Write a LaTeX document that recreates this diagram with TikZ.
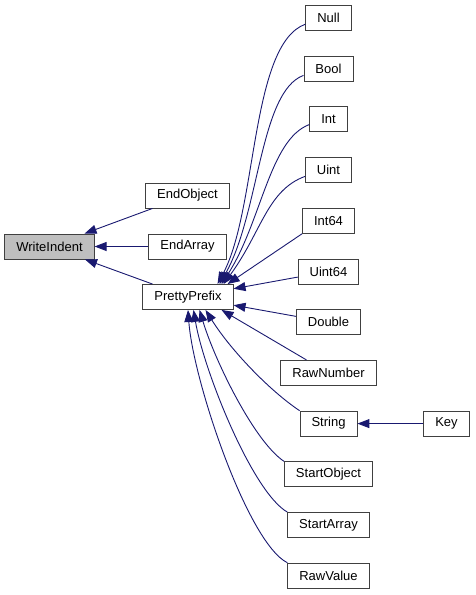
\documentclass[tikz,border=0pt]{standalone}
\usepackage{fontspec}
\setmainfont{Liberation Sans}
\usetikzlibrary{arrows.meta}
\definecolor{callblue}{HTML}{191970}
\tikzset{fn/.style={draw=black!75, line width=0.9pt, fill=white,
    minimum height=25pt, inner xsep=11.5pt, inner ysep=0pt,
    font=\fontsize{13}{15}\selectfont},
  current/.style={fn, fill=black!25},
  call/.style={draw=callblue, line width=0.9pt,
    -{Triangle[length=12pt,width=9pt]}}
}

\begin{document}
\begin{tikzpicture}[x=1pt, y=-1pt]
      \useasboundingbox (0,0) rectangle (475,595);
      \node[current] (wi) at (49.5,246.5) {WriteIndent};
      \node[fn] (endobj) at (187.5,195.5) {EndObject};
      \node[fn] (endarr) at (187.5,246.5) {EndArray};
      \node[fn] (pretty) at (188,297) {PrettyPrefix};
      \node[fn] (null) at (328.5,18) {Null};
      \node[fn] (bool) at (328.5,68.7) {Bool};
      \node[fn] (int) at (328.5,119.4) {Int};
      \node[fn] (uint) at (328.5,170.1) {Uint};
      \node[fn] (intsf) at (328.5,220.8) {Int64};
      \node[fn] (uintsf) at (328.5,271.5) {Uint64};
      \node[fn] (dbl) at (328.5,322.2) {Double};
      \node[fn] (rawnum) at (328.5,372.9) {RawNumber};
      \node[fn] (str) at (328.5,423.6) {String};
      \node[fn] (key) at (446.5,423.6) {Key};
      \node[fn] (startobj) at (328.5,474.3) {StartObject};
      \node[fn] (startarr) at (328.5,525) {StartArray};
      \node[fn] (rawval) at (328.5,575.7) {RawValue};
      \draw[call] (endobj) -- (wi);
      \draw[call] (endarr) -- (wi);
      \draw[call] (pretty) -- (wi);
      \draw[call] (null.195) .. controls +(-55,20) and +(40,-75) .. ([xshift=-16pt]pretty.north east);
      \draw[call] (bool.195) .. controls +(-44,16) and +(40,-70) .. ([xshift=-14pt]pretty.north east);
      \draw[call] (int.195) .. controls +(-40,15) and +(40,-62) .. ([xshift=-12pt]pretty.north east);
      \draw[call] (uint.195) .. controls +(-38,14) and +(38,-52) .. ([xshift=-10pt]pretty.north east);
      \draw[call] (intsf.south west) -- ([xshift=-6pt]pretty.north east);
      \draw[call] (uintsf) -- (pretty);
      \draw[call] (dbl) -- (pretty);
      \draw[call] (rawnum) -- ([xshift=-12pt]pretty.south east);
      \draw[call] (str.north west) .. controls +(-30,-20) and +(25,40) .. ([xshift=-28pt]pretty.south east);
      \draw[call] (startobj.north west) .. controls +(-30,-20) and +(15,50) .. ([xshift=-34pt]pretty.south east);
      \draw[call] (startarr.north west) .. controls +(-35,-20) and +(10,60) .. ([xshift=-40pt]pretty.south east);
      \draw[call] (rawval.north west) .. controls +(-40,-20) and +(5,70) .. (pretty.south);
      \draw[call] (key) -- (str);
\end{tikzpicture}
\end{document}
